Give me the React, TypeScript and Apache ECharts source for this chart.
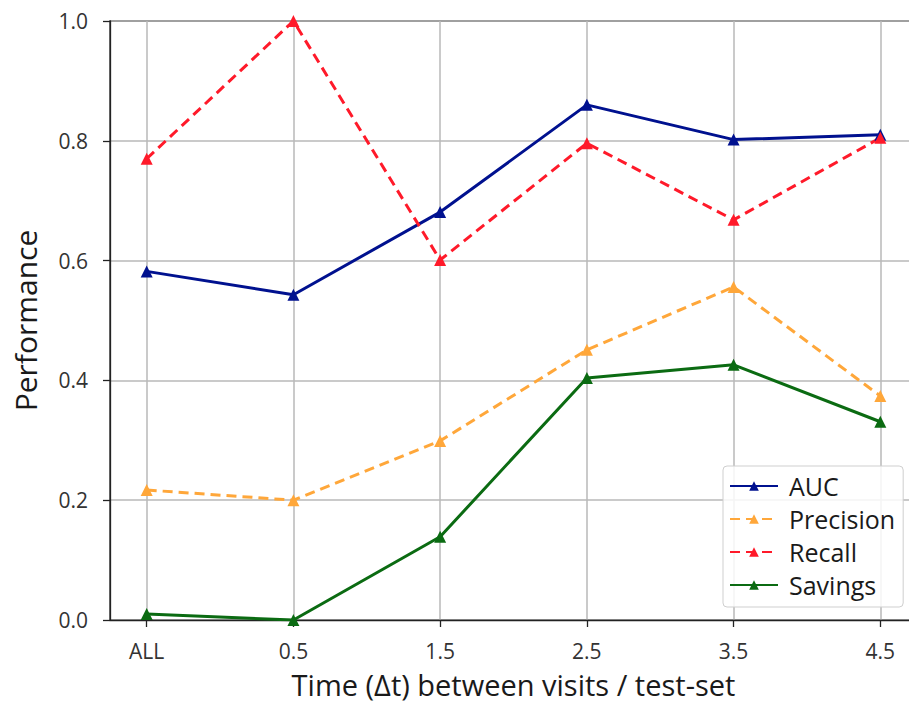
import React, { useEffect, useRef } from "react";
import * as echarts from "echarts";

const xLabels = ["ALL", "0.5", "1.5", "2.5", "3.5", "4.5"];
const xPositions = [0, 1, 2, 3, 4, 5];
const auc = [0.582, 0.543, 0.681, 0.86, 0.802, 0.81];
const precision = [0.217, 0.2, 0.299, 0.451, 0.556, 0.374];
const recall = [0.77, 1.0, 0.601, 0.796, 0.668, 0.805];
const savings = [0.01, 0.0, 0.139, 0.404, 0.426, 0.331];

const FONT = "'Open Sans', 'Noto Sans', sans-serif";

function pairs(vals: number[]) {
  return xPositions.map((x, i) => [x, vals[i]]);
}

export default function App() {
  const ref = useRef<HTMLDivElement>(null);
  useEffect(() => {
    if (!ref.current) return;
    const chart = echarts.init(ref.current, undefined, { renderer: "svg" });
    const mk = (name: string, data: number[], color: string, dashed: boolean) => ({
      name,
      type: "line",
      data: pairs(data),
      symbol: "triangle",
      symbolSize: 12,
      itemStyle: { color },
      lineStyle: { color, width: 3, type: dashed ? [10, 6] : "solid" },
      z: 3,
    });
    chart.setOption({
      animation: false,
      textStyle: { fontFamily: FONT },
      grid: {
        left: 110,
        right: -8,
        top: 21,
        bottom: 83,
        outerBoundsMode: "none",
        containLabel: false,
        show: true,
        borderColor: "#222",
        borderWidth: 1.3,
      },
      xAxis: {
        type: "value",
        min: -0.25,
        max: 5.25,
        name: "Time (Δt) between visits / test-set",
        nameLocation: "middle",
        nameGap: 50,
        nameTextStyle: { fontSize: 29, lineHeight: 29, color: "#1a1a1a", fontFamily: FONT },
        axisLine: { show: true, onZero: false, lineStyle: { color: "#222", width: 1.3 } },
        axisTick: {
          show: true,
          length: 7,
          customValues: xPositions,
          lineStyle: { color: "#222", width: 1.3 },
        },
        axisLabel: {
          customValues: xPositions,
          margin: 20,
          fontSize: 21,
          color: "#333",
          fontFamily: FONT,
          formatter: (v: number) => xLabels[Math.round(v)] ?? "",
        },
        splitLine: { show: true, lineStyle: { color: "#b8b8b8", width: 1.5 } },
      },
      yAxis: {
        type: "value",
        min: 0,
        max: 1,
        interval: 0.2,
        name: "Performance",
        nameLocation: "middle",
        nameGap: 70,
        nameTextStyle: { fontSize: 30, color: "#1a1a1a", fontFamily: FONT },
        axisLine: { show: true, onZero: false, lineStyle: { color: "#222", width: 1.3 } },
        axisTick: { show: true, length: 7, lineStyle: { color: "#222", width: 1.3 } },
        axisLabel: {
          margin: 22,
          fontSize: 21,
          color: "#333",
          fontFamily: FONT,
          formatter: (v: number) => v.toFixed(1),
        },
        splitLine: { show: true, lineStyle: { color: "#b8b8b8", width: 1.5 } },
      },
      legend: {
        orient: "vertical",
        left: 723,
        top: 466,
        padding: [7, 8, 9, 6],
        itemWidth: 48,
        itemHeight: 12,
        itemGap: 7,
        backgroundColor: "rgba(255,255,255,0.85)",
        borderColor: "#cfcfcf",
        borderWidth: 1,
        borderRadius: 4,
        textStyle: { fontSize: 25, color: "#1a1a1a", fontFamily: FONT, lineHeight: 26, padding: [0, 0, 0, 6] },
        data: ["AUC", "Precision", "Recall", "Savings"],
      },
      series: [
        mk("AUC", auc, "#00118f", false),
        mk("Precision", precision, "#ffa73a", true),
        mk("Recall", recall, "#ff1a2a", true),
        mk("Savings", savings, "#0b6b12", false),
      ],
    });
    return () => chart.dispose();
  }, []);
  return (
    <div
      ref={ref}
      style={{ position: "fixed", left: 0, top: 0, width: 909, height: 703, background: "#fff" }}
    />
  );
}
